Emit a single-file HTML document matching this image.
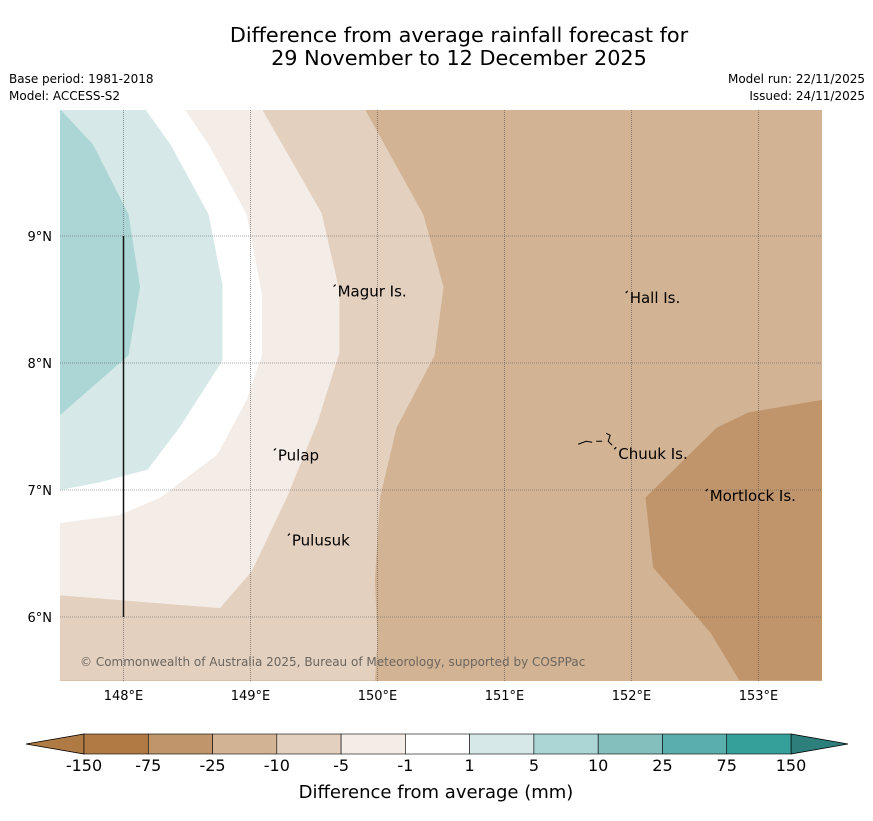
<!DOCTYPE html>
<html><head><meta charset="utf-8"><style>
body{margin:0;background:#fff;font-family:"Liberation Sans","DejaVu Sans",sans-serif;}
svg text{font-family:"DejaVu Sans","Liberation Sans",sans-serif;}
</style></head><body>
<svg id="chart" width="873" height="816" viewBox="0 0 873 816" xmlns="http://www.w3.org/2000/svg">
<rect width="873" height="816" fill="#fff"/>
<text x="459" y="42" font-size="20.8" text-anchor="middle">Difference from average rainfall forecast for</text>
<text x="459" y="65" font-size="20.8" text-anchor="middle">29 November to 12 December 2025</text>
<text x="9" y="83" font-size="12">Base period: 1981-2018</text>
<text x="9" y="100" font-size="12">Model: ACCESS-S2</text>
<text x="865" y="83" font-size="12" text-anchor="end">Model run: 22/11/2025</text>
<text x="865" y="100" font-size="12" text-anchor="end">Issued: 24/11/2025</text>
<defs><clipPath id="mapclip"><rect x="60" y="110" width="762" height="571"/></clipPath></defs>
<g id="map" clip-path="url(#mapclip)"></g>
<g id="axes"></g>
<g id="cbar"></g>
<text x="436" y="798" font-size="18" text-anchor="middle">Difference from average (mm)</text>
</svg>
<script>
const lonTicks=[148,149,150,151,152,153];
const latTicks=[9,8,7,6];
const cbLabels=["-150","-75","-25","-10","-5","-1","1","5","10","25","75","150"];
const cbColors=["#b07a45","#c0956b","#d2b394","#e3d0bf","#f4ece6","#ffffff","#d6e9e8","#acd6d5","#84bfbe","#5aaeab","#35a09a"];
const bgLevel=2;
const contourLevels=[3,4,5,6,7,1];
const contourPolys=[
[[147.5,10],[149.9,10],[150.36,9.17],[150.52,8.6],[150.45,8.06],[150.15,7.49],[150.02,6.94],[149.98,6.29],[150.0,5.82],[149.98,5.5],[147.5,5.5]],
[[147.5,10],[149.09,10],[149.56,9.18],[149.7,8.57],[149.7,8.08],[149.53,7.54],[149.29,6.95],[149.01,6.36],[148.76,6.07],[147.5,6.17]],
[[147.5,10],[148.48,10],[148.67,9.72],[148.97,9.17],[149.09,8.54],[149.09,8.06],[148.97,7.71],[148.74,7.28],[148.29,6.94],[147.96,6.8],[147.5,6.74]],
[[147.5,10],[148.17,10],[148.37,9.72],[148.67,9.17],[148.78,8.61],[148.78,8.02],[148.44,7.49],[148.19,7.16],[147.81,7.06],[147.5,7.0]],
[[147.5,10],[147.76,9.72],[148.04,9.17],[148.13,8.6],[148.04,8.06],[147.5,7.59]],
[[153.5,7.71],[152.92,7.61],[152.67,7.49],[152.11,6.94],[152.17,6.39],[152.62,5.88],[152.85,5.5],[153.5,5.5]]
];
const places=["Magur Is.","Hall Is.","Pulap","Chuuk Is.","Mortlock Is.","Pulusuk"];
const placeLon=[149.67,151.97,149.2,151.88,152.6,149.31];
const placeLat=[8.57,8.52,7.28,7.29,6.96,6.61];
const NS="http://www.w3.org/2000/svg";
const X=lon=>60+(lon-147.5)*127;
const Y=lat=>109+(10-lat)*127;
function mk(t,a,p){const e=document.createElementNS(NS,t);for(const k in a)e.setAttribute(k,a[k]);p.appendChild(e);return e;}
const map=document.getElementById('map'),axes=document.getElementById('axes'),cb=document.getElementById('cbar');
const bg=mk('rect',{x:60,y:110,width:762,height:571,fill:cbColors[bgLevel]},map);


contourPolys.forEach((poly,i)=>{
 const p=mk('polygon',{points:poly.map(q=>X(q[0])+','+Y(q[1])).join(' '),fill:cbColors[contourLevels[i]]},map);
 
 
});
lonTicks.forEach(l=>{
 const g=mk('line',{x1:X(l),x2:X(l),y1:110,y2:681,stroke:'#555','stroke-width':0.6,'stroke-dasharray':'1,1'},map);
 
 
 const t=mk('text',{x:X(l),y:700,'font-size':13,'text-anchor':'middle'},axes);t.textContent=l+'°E';
 
 
});
latTicks.forEach(l=>{
 const g=mk('line',{x1:60,x2:822,y1:Y(l),y2:Y(l),stroke:'#555','stroke-width':0.6,'stroke-dasharray':'1,1'},map);
 
 
 const t=mk('text',{x:52,y:Y(l)+5,'font-size':13,'text-anchor':'end'},axes);t.textContent=l+'°N';
 
 
});
const vl=mk('line',{x1:X(148),x2:X(148),y1:Y(9),y2:Y(6),stroke:'#111','stroke-width':1.5},map);


places.forEach((n,i)=>{
 const d=mk('path',{d:`M${X(placeLon[i])-2},${Y(placeLat[i])-4} l2,-2`,stroke:'#000','stroke-width':1.2},map);
 
 
 const t=mk('text',{x:X(placeLon[i])+2,y:Y(placeLat[i])+6,'font-size':15},map);t.textContent=n;
 
 
});
const ch=mk('path',{d:`M${X(151.58)},${Y(7.36)} l8,-3 l6,1 m4,-1 l6,0 m4,-8 l4,2 l-2,6 l4,4`,stroke:'#000','stroke-width':1,fill:'none'},map);


const cp=mk('text',{x:80,y:666,'font-size':12,fill:'#6b6660'},map);cp.textContent='© Commonwealth of Australia 2025, Bureau of Meteorology, supported by COSPPac';


const cx0=84,cx1=791,cy0=734,cy1=754,w=(cx1-cx0)/cbColors.length;
const lt=mk('polygon',{points:`26,744 ${cx0},${cy0} ${cx0},${cy1}`,fill:cbColors[0],stroke:'#000','stroke-width':0.8},cb);


const rt=mk('polygon',{points:`848,744 ${cx1},${cy0} ${cx1},${cy1}`,fill:'#2d7f7b',stroke:'#000','stroke-width':0.8},cb);


cbColors.forEach((c,i)=>{
 const r=mk('rect',{x:cx0+i*w,y:cy0,width:w,height:cy1-cy0,fill:c,stroke:'#000','stroke-width':0.6},cb);
 
 
});
cbLabels.forEach((l,i)=>{
 const t=mk('text',{x:cx0+i*w,y:771,'font-size':16,'text-anchor':'middle'},cb);t.textContent=l;
 
 
});
</script>
</body></html>
